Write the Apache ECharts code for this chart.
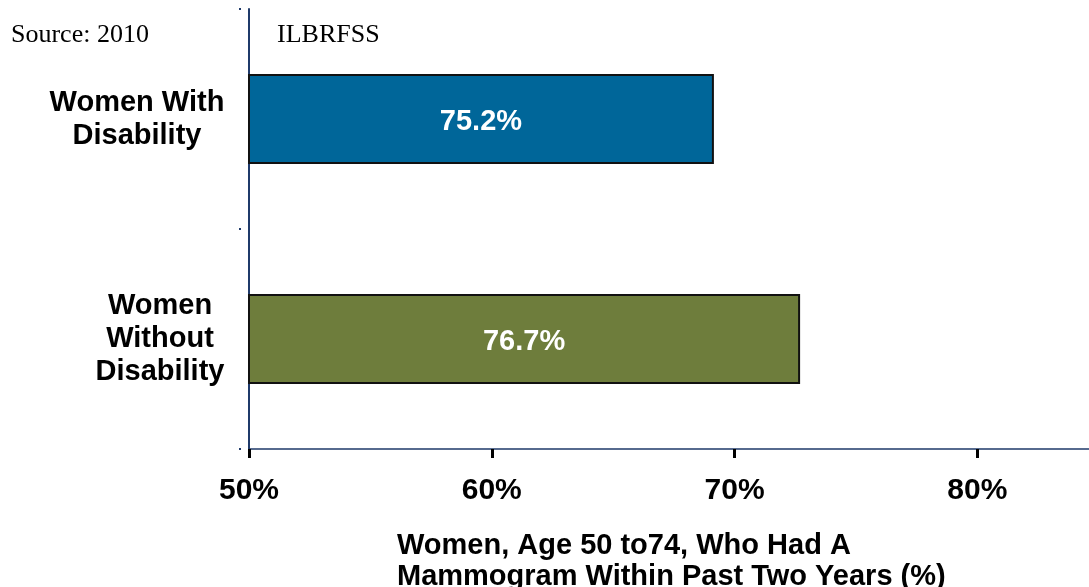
<!DOCTYPE html>
<html>
<head>
<meta charset="utf-8">
<script src="https://cdn.jsdelivr.net/npm/echarts@6/dist/echarts.min.js"></script>
<style>
    html, body { margin: 0; padding: 0; background: #fff; }
    #chart { width: 1089px; height: 587px; }
</style>
</head>
<body>
<div id="chart"></div>
<script>
const categories = ['Women With\nDisability', 'Women\nWithout\nDisability'];
// bar lengths as drawn in the picture (the printed labels differ)
const barValues = [69.15, 72.7];
const barLabels = ['75.2%', '76.7%'];
const barColors = ['#006699', '#6E7D3C'];
const xTicks = [50, 60, 70, 80];

const boldFont = 'Liberation Sans, Arial, sans-serif';
const serifFont = 'Liberation Serif, Times New Roman, serif';

const chart = echarts.init(document.getElementById('chart'));

chart.setOption({
    animation: false,
    title: [
        {
            text: 'Source: 2010',
            left: 6,
            top: 17,
            textStyle: { fontFamily: serifFont, fontSize: 26, fontWeight: 'normal', color: '#000' }
        },
        {
            text: 'ILBRFSS',
            left: 272,
            top: 17,
            textStyle: { fontFamily: serifFont, fontSize: 26, fontWeight: 'normal', color: '#000' }
        },
        {
            text: 'Women, Age 50 to74, Who Had A\nMammogram Within Past Two Years (%)',
            left: 392,
            top: 525,
            textStyle: { fontFamily: boldFont, fontSize: 29, fontWeight: 'bold', color: '#000', lineHeight: 31 }
        }
    ],
    grid: {
        left: 249,
        right: 0,
        top: 9,
        bottom: 138
    },
    xAxis: {
        type: 'value',
        min: 50,
        max: 84.6,
        interval: 10,
        splitLine: { show: false },
        axisLine: {
            show: true,
            lineStyle: { color: '#1F3A6A', width: 1.5 }
        },
        axisTick: {
            show: true,
            customValues: xTicks,
            length: 9,
            lineStyle: { color: '#000', width: 3 }
        },
        axisLabel: {
            customValues: xTicks,
            formatter: '{value}%',
            margin: 27,
            fontFamily: boldFont,
            fontSize: 30,
            fontWeight: 'bold',
            color: '#000'
        }
    },
    yAxis: [
        {
            type: 'category',
            inverse: true,
            data: categories,
            axisLine: {
                show: true,
                lineStyle: { color: '#1F3A6A', width: 2 }
            },
            axisTick: { show: false },
            axisLabel: {
                margin: 89,
                align: 'center',
                fontFamily: boldFont,
                fontSize: 29,
                fontWeight: 'bold',
                color: '#000',
                lineHeight: 33,
                formatter: (value, idx) => {
                    const tag = idx === 0 ? 'a' : 'b';
                    return value.split('\n').map(s => '{' + tag + '|' + s + '}').join('\n');
                },
                rich: {
                    a: { fontFamily: boldFont, fontSize: 29, fontWeight: 'bold', color: '#000', lineHeight: 33, padding: [0, 46, 0, 0] },
                    b: { fontFamily: boldFont, fontSize: 29, fontWeight: 'bold', color: '#000', lineHeight: 33 }
                }
            }
        },
        {
            // small detached tick marks left of the axis
            type: 'category',
            inverse: true,
            position: 'left',
            offset: 8,
            data: categories,
            axisLine: { show: false },
            axisTick: {
                show: true,
                length: 2,
                lineStyle: { color: '#1F3A6A', width: 2 }
            },
            axisLabel: { show: false }
        }
    ],
    series: [
        {
            type: 'bar',
            yAxisIndex: 0,
            barWidth: 90,
            data: barValues.map((v, i) => ({
                value: v,
                itemStyle: { color: barColors[i] },
                label: { formatter: barLabels[i] }
            })),
            itemStyle: {
                borderColor: '#111',
                borderWidth: 2
            },
            label: {
                show: true,
                position: 'inside',
                offset: [0, 3],
                fontFamily: boldFont,
                fontSize: 29,
                fontWeight: 'bold',
                color: '#fff'
            }
        }
    ]
});
</script>
</body>
</html>
